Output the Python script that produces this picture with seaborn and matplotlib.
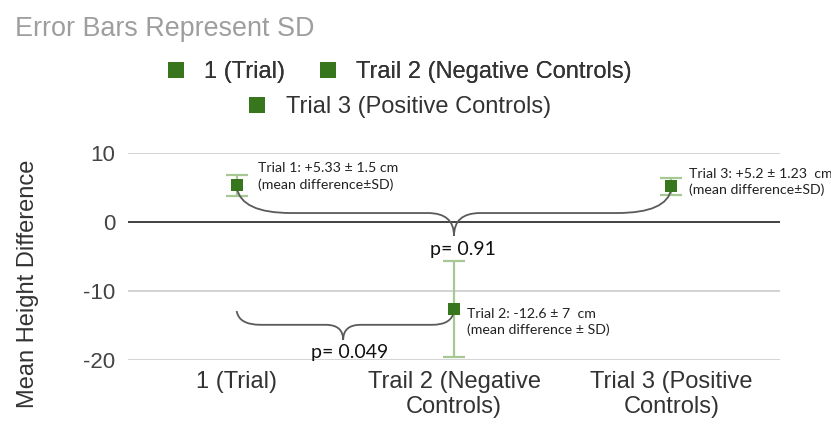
import pandas as pd
import matplotlib.pyplot as plt
import seaborn as sns
from matplotlib.path import Path
from matplotlib.patches import PathPatch

# chart values
trials = ["1 (Trial)", "Trail 2 (Negative Controls)", "Trial 3 (Positive Controls)"]
tick_labels = ["1 (Trial)", "Trail 2 (Negative\nControls)", "Trial 3 (Positive\nControls)"]
means = [5.33, -12.6, 5.2]
sds = [1.5, 7.0, 1.23]
notes = [
    "Trial 1: +5.33 \u00b1 1.5 cm\n(mean difference\u00b1SD)",
    "Trial 2: -12.6 \u00b1 7  cm\n(mean difference \u00b1 SD)",
    "Trial 3: +5.2 \u00b1 1.23  cm\n(mean difference\u00b1SD)",
]
p_values = ["p= 0.91", "p= 0.049"]

GREEN = "#38761d"
LIGHT_GREEN = "#a6c893"
BRACE = "#5a5a5a"

df = pd.DataFrame({"trial": trials, "mean": means, "sd": sds})

sns.set_style("white")
plt.rcParams["font.family"] = ["Liberation Sans", "DejaVu Sans"]
plt.rcParams["axes.unicode_minus"] = False

fig = plt.figure(figsize=(8.31, 4.26), dpi=100)
ax = fig.add_axes([128 / 831, 1 - 360 / 426, (780 - 128) / 831, (360 - 153) / 426])

# error bars (SD)
ax.errorbar(range(len(df)), df["mean"], yerr=df["sd"], fmt="none",
            ecolor=LIGHT_GREEN, elinewidth=1.6, capsize=8, capthick=1.6, zorder=3)

sns.scatterplot(data=df, x="trial", y="mean", hue="trial",
                palette=[GREEN] * len(df), marker="s", s=72, linewidth=0,
                ax=ax, zorder=5)
handles, labels = ax.get_legend_handles_labels()
ax.legend_.remove()

ax.set_ylim(-20, 10)
ax.set_xlim(-0.5, 2.5)
ax.set_yticks([10, 0, -10, -20])
ax.set_xticks(range(len(df)))
ax.set_xticklabels(tick_labels, fontsize=17, color="#333333", linespacing=1.15)
ax.tick_params(axis="y", labelsize=16, labelcolor="#444444", length=0, pad=9)
ax.tick_params(axis="x", length=0, pad=8)
ax.set_xlabel("")
ax.set_ylabel("")
for s in ax.spines.values():
    s.set_visible(False)
for yv in [10, -10, -20]:
    ax.axhline(yv, color="#cccccc", lw=1.2, zorder=0)
ax.axhline(0, color="#333333", lw=1.3, zorder=1)


def brace(pts):
    codes = [Path.MOVETO, Path.CURVE3, Path.CURVE3, Path.LINETO,
             Path.CURVE3, Path.CURVE3, Path.CURVE3, Path.CURVE3,
             Path.LINETO, Path.CURVE3, Path.CURVE3]
    ax.add_patch(PathPatch(Path(pts, codes), fill=False, ec=BRACE, lw=1.3, zorder=4,
                           clip_on=False))


# brace between trial 1 and trial 3
brace([(0, 5.0), (0.02, 1.3), (0.25, 1.3), (0.88, 1.3),
       (1.0, 1.3), (1.0, -2.0), (1.0, 1.3),
       (1.12, 1.3), (1.75, 1.3), (1.98, 1.3), (2.0, 4.8)])
# brace between trial 1 and trial 2
brace([(0, -12.9), (0.01, -14.9), (0.11, -14.9), (0.41, -14.9),
       (0.49, -14.9), (0.49, -17.1), (0.49, -14.9),
       (0.57, -14.9), (0.9, -14.9), (0.99, -14.9), (1.0, -12.9)])

note_pos = [(0.1, 6.6), (1.06, -14.5), (2.08, 5.8)]
for (xp, yp), txt in zip(note_pos, notes):
    ax.text(xp, yp, txt, ha="left", va="center", fontsize=10.2, family="Lato",
            color="#222222", linespacing=1.4, zorder=6, clip_on=False,
            bbox=dict(facecolor="white", edgecolor="none", pad=0.5))

ax.text(1.04, -4.0, p_values[0], ha="center", va="center", fontsize=14,
        family="Lato", color="#111111", zorder=6)
ax.text(0.52, -18.9, p_values[1], ha="center", va="center", fontsize=14,
        family="Lato", color="#111111", zorder=6)

fig.text(28 / 831, 1 - 284 / 426, "Mean Height Difference", rotation=90,
         ha="center", va="center", fontsize=17, color="#333333")
fig.text(15 / 831, 1 - 36 / 426, "Error Bars Represent SD", ha="left",
         va="baseline", fontsize=19.4, color="#9e9e9e")

for h in handles:
    h.set_markersize(11.5)
leg1 = fig.legend(handles[:2], labels[:2], ncol=2, loc="center",
                  bbox_to_anchor=(398 / 831, 1 - 72 / 426), frameon=False,
                  fontsize=17, labelcolor="#333333", handletextpad=0.7,
                  columnspacing=1.3, handlelength=1.0, borderpad=0)
fig.add_artist(leg1)
fig.legend(handles[2:], labels[2:], loc="center",
           bbox_to_anchor=(398 / 831, 1 - 107 / 426), frameon=False,
           fontsize=17, labelcolor="#333333", handletextpad=0.7,
           handlelength=1.0, borderpad=0)

fig.savefig("out.png", dpi=100)
